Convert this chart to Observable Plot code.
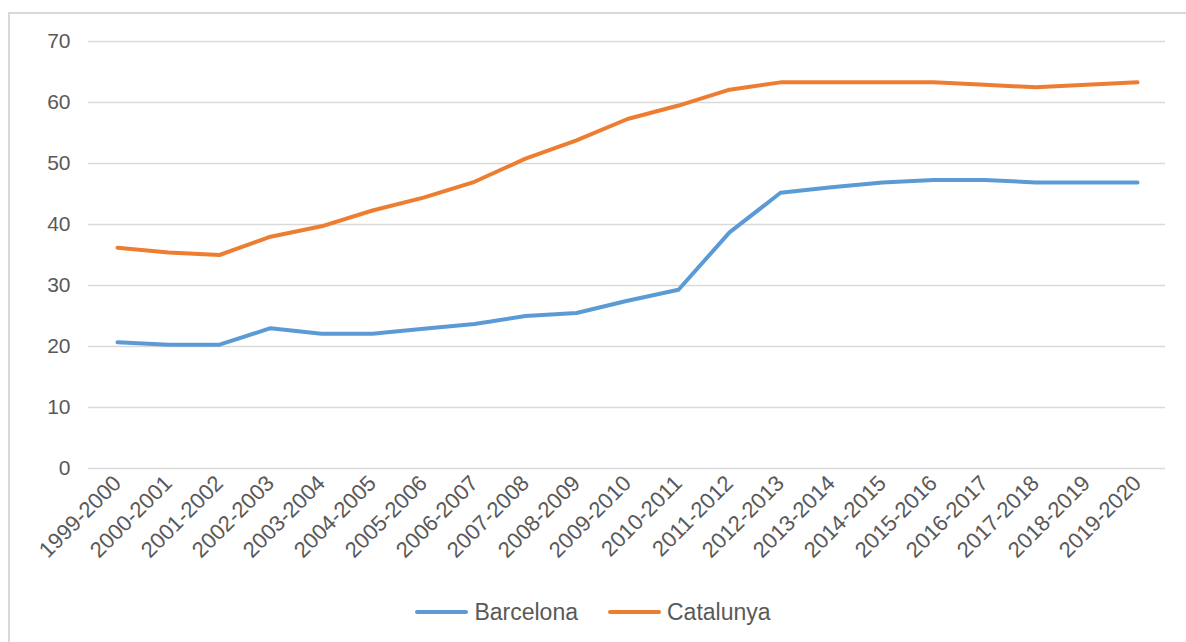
<!DOCTYPE html>
<html>
<head>
<meta charset="utf-8">
<script src="https://cdn.jsdelivr.net/npm/d3@7"></script>
<script src="https://cdn.jsdelivr.net/npm/@observablehq/plot@0.6"></script>
<style>
  html, body { margin: 0; padding: 0; background: #fff; overflow: hidden; }
  #wrap { position: relative; width: 1186px; height: 642px; font-family: "Liberation Sans", Arial, sans-serif; }
  #frame { position: absolute; left: 8px; top: 12px; width: 1300px; height: 700px; border-top: 2px solid #d9d9d9; border-left: 2px solid #d9d9d9; box-sizing: border-box; }
  #chart { position: absolute; left: 0; top: 0; }
  #legend { position: absolute; left: 0; top: 597px; width: 1186px; height: 30px; line-height: 30px; display: flex; justify-content: center; align-items: center; gap: 30px; font-size: 23px; color: #595959; }
  .item { display: flex; align-items: center; }
  .swatch { width: 53px; height: 4px; border-radius: 2px; margin-right: 6px; }
</style>
</head>
<body>
<div id="wrap">
  <div id="frame"></div>
  <div id="chart"></div>
  <div id="legend"></div>
</div>
<script>
const years = ["1999-2000","2000-2001","2001-2002","2002-2003","2003-2004","2004-2005","2005-2006","2006-2007","2007-2008","2008-2009","2009-2010","2010-2011","2011-2012","2012-2013","2013-2014","2014-2015","2015-2016","2016-2017","2017-2018","2018-2019","2019-2020"];
const barcelona = [20.7, 20.3, 20.3, 23.0, 22.1, 22.1, 22.9, 23.7, 25.0, 25.5, 27.5, 29.3, 38.7, 45.2, 46.1, 46.9, 47.3, 47.3, 46.9, 46.9, 46.9];
const catalunya = [36.2, 35.4, 35.0, 38.0, 39.7, 42.3, 44.4, 47.0, 50.8, 53.8, 57.3, 59.5, 62.1, 63.3, 63.3, 63.3, 63.3, 62.9, 62.5, 62.9, 63.3];
const seriesNames = ["Barcelona", "Catalunya"];
const seriesColors = ["#5b9bd5", "#ed7d31"];
const yTicks = [0, 10, 20, 30, 40, 50, 60, 70];

const rows = [];
years.forEach((y, i) => {
  rows.push({year: y, value: barcelona[i], series: seriesNames[0]});
  rows.push({year: y, value: catalunya[i], series: seriesNames[1]});
});

const chart = Plot.plot({
  width: 1186,
  height: 590,
  marginLeft: 88,
  marginRight: 21,
  marginTop: 41,
  marginBottom: 122,
  style: {fontFamily: "Liberation Sans, Arial, sans-serif", fontSize: "21px", color: "#595959", background: "transparent"},
  x: {type: "point", domain: years, padding: 0.5, label: null},
  y: {domain: [0, 70], label: null},
  color: {domain: seriesNames, range: seriesColors},
  marks: [
    Plot.gridY(yTicks, {stroke: "#d9d9d9", strokeOpacity: 1, strokeWidth: 1.5}),
    Plot.axisY(yTicks, {tickSize: 0, tickPadding: 18, fontSize: 21, fill: "#595959", label: null}),
    Plot.axisX({tickSize: 0, tickPadding: 11, tickRotate: -45, fontSize: 22, fill: "#595959", label: null}),
    Plot.line(rows, {x: "year", y: "value", z: "series", stroke: "series", strokeWidth: 4, strokeLinejoin: "round", strokeLinecap: "round"})
  ]
});
document.getElementById("chart").appendChild(chart);

const legend = document.getElementById("legend");
seriesNames.forEach((n, i) => {
  const it = document.createElement("div");
  it.className = "item";
  it.innerHTML = `<span class="swatch" style="background:${seriesColors[i]}"></span><span>${n}</span>`;
  legend.appendChild(it);
});
</script>
</body>
</html>
